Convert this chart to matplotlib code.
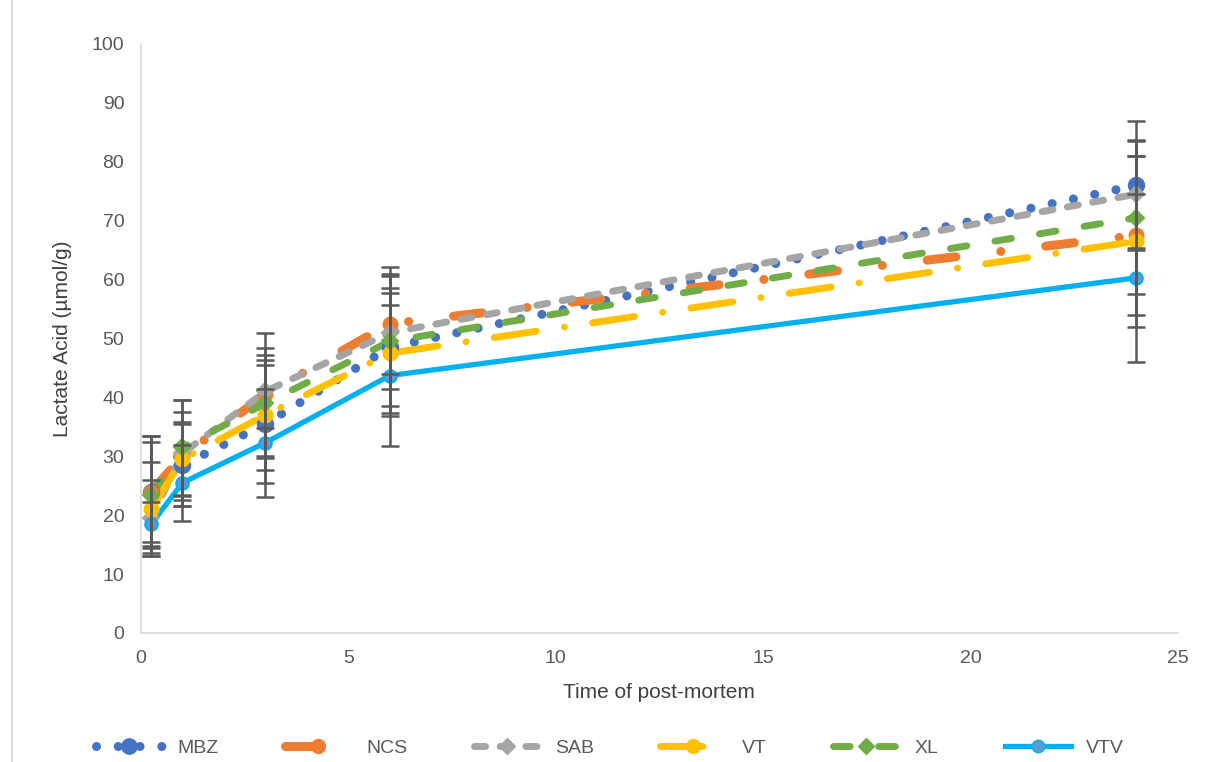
import matplotlib.pyplot as plt
from matplotlib.lines import Line2D

plt.rcParams["font.family"] = ["Liberation Sans", "DejaVu Sans"]

hours = [0.25, 1, 3, 6, 24]

mbz = [24.0, 28.5, 35.5, 48.5, 76.0]
ncs = [24.0, 30.0, 40.5, 52.5, 67.5]
sab = [19.5, 30.5, 41.0, 51.0, 74.5]
vt = [21.0, 29.5, 37.0, 47.5, 66.5]
xl = [23.5, 31.5, 39.0, 49.5, 70.5]
vtv = [18.5, 25.5, 32.3, 43.7, 60.3]

mbz_err = [9.5, 7.0, 10.0, 10.0, 11.0]
ncs_err = [8.5, 7.5, 10.5, 8.5, 13.5]
sab_err = [6.5, 9.0, 6.2, 9.6, 9.2]
vt_err = [8.0, 6.3, 9.3, 10.2, 14.5]
xl_err = [10.0, 8.0, 9.3, 12.7, 13.0]
vtv_err = [3.7, 6.5, 9.2, 12.0, 14.3]

names = ["MBZ", "NCS", "SAB", "VT", "XL", "VTV"]

# colour, linestyle, lw, marker, marker size, marker face
STYLES = {
    "MBZ": ("#4472C4", (0, (0.01, 2.4)), 6.5, "o", 11, "#4472C4"),
    "NCS": ("#ED7D31", (0, (3.2, 5.0, 0.01, 5.0)), 6.5, "o", 10, "#ED7D31"),
    "SAB": ("#A5A5A5", (0, (1.6, 2.1)), 5.0, "D", 8, "#A5A5A5"),
    "VT": ("#FFC000", (0, (6.1, 4.1, 0.01, 4.1)), 5.0, "o", 10, "#FFC000"),
    "XL": ("#70AD47", (0, (2.4, 4.1)), 5.0, "D", 8, "#70AD47"),
    "VTV": ("#00B0F0", "-", 3.8, "o", 9, "#5B9BD5"),
}

series = dict(zip(names, [mbz, ncs, sab, vt, xl, vtv]))
errors = dict(zip(names, [mbz_err, ncs_err, sab_err, vt_err, xl_err, vtv_err]))

fig = plt.figure(figsize=(12.08, 7.62), dpi=100)
ax = fig.add_axes([0.1167, 0.1693, 0.8583, 0.773])

# light chart-area border on the left
fig.add_artist(Line2D([0.01, 0.01], [0, 1], transform=fig.transFigure,
                      color="#D9D9D9", lw=1.2))

handles = []
for k in names:
    c, ls, lw, m, ms, mf = STYLES[k]
    ax.plot(hours, series[k], color=c, lw=lw, linestyle=ls,
            dash_capstyle="round", solid_capstyle="round", zorder=3)
    ax.plot(hours, series[k], linestyle="none", marker=m, ms=ms,
            markerfacecolor=mf, markeredgecolor=c, markeredgewidth=1.5, zorder=4)
    ax.errorbar(hours, series[k], yerr=errors[k], fmt="none", ecolor="#595959",
                elinewidth=1.8, capsize=6.5, capthick=1.8, zorder=5)
    handles.append(Line2D([], [], color=c, lw=lw, linestyle=ls, dash_capstyle="round",
                          marker=m, ms=ms, markerfacecolor=mf, markeredgecolor=c))

ax.set_xlim(0, 25)
ax.set_ylim(0, 100)
ax.set_xticks([0, 5, 10, 15, 20, 25])
ax.set_yticks(range(0, 101, 10))
ax.tick_params(length=0, labelsize=14, colors="#595959", pad=12)
for s in ["top", "right"]:
    ax.spines[s].set_visible(False)
for s in ["left", "bottom"]:
    ax.spines[s].set_color("#D9D9D9")
    ax.spines[s].set_linewidth(1.2)

ax.set_xlabel("Time of post-mortem", fontsize=15, color="#404040", labelpad=12)
ax.set_ylabel("Lactate Acid (µmol/g)", fontsize=15, color="#404040", labelpad=14)

fig.legend(handles, names, loc="center", bbox_to_anchor=(0.505, 0.018), ncol=6,
           frameon=False, fontsize=14, handlelength=3.4, handletextpad=0.8,
           columnspacing=3.4, labelcolor="#595959")

fig.savefig("out.png", dpi=100)
